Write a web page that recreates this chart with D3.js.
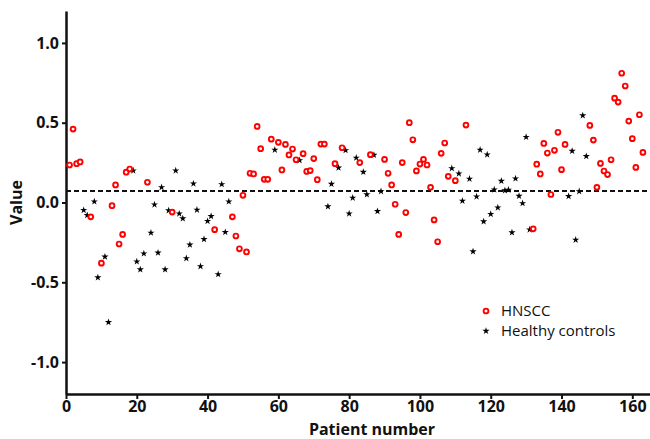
<!DOCTYPE html>
<html>
<head>
<meta charset="utf-8">
<script src="https://cdn.jsdelivr.net/npm/d3@7"></script>
<style>
  body { margin: 0; background: #fff; }
  .tick text { font-family: "Open Sans", sans-serif; font-weight: bold; font-size: 16px; fill: #111; }
  .label { font-family: "Open Sans", sans-serif; font-weight: bold; font-size: 16px; fill: #111; }
  .legend { font-family: "Open Sans", sans-serif; font-size: 15px; fill: #111; }
</style>
</head>
<body>
<div id="container"></div>
<script>

// patient number / value
const hnsccPatient = [1, 2, 3, 4, 7, 10, 13, 14, 15, 16, 17, 18, 23, 30, 42, 47, 48, 49, 50, 51,
    52, 53, 54, 55, 56, 57, 58, 60, 61, 62, 63, 64, 65, 67, 68, 69, 70, 71, 72, 73,
    76, 78, 83, 86, 90, 91, 92, 93, 94, 95, 96, 97, 98, 99, 100, 101, 102, 103, 104, 105,
    106, 107, 108, 110, 113, 132, 133, 134, 135, 136, 137, 138, 139, 140, 141, 148, 149, 150, 151, 152,
    153, 154, 155, 156, 157, 158, 159, 160, 161, 162, 163];
const hnsccValue = [0.235, 0.46, 0.243, 0.254, -0.09, -0.38, -0.02, 0.11, -0.26, -0.20, 0.19, 0.21, 0.127, -0.06, -0.17, -0.09, -0.21, -0.29, 0.045, -0.31,
    0.183, 0.179, 0.477, 0.337, 0.145, 0.145, 0.397, 0.377, 0.204, 0.364, 0.298, 0.335, 0.268, 0.306, 0.195, 0.20, 0.275, 0.143, 0.366, 0.366,
    0.243, 0.343, 0.25, 0.30, 0.27, 0.183, 0.11, -0.011, -0.20, 0.25, -0.063, 0.50, 0.393, 0.198, 0.241, 0.27, 0.235, 0.095, -0.109, -0.246,
    0.308, 0.373, 0.164, 0.137, 0.485, -0.165, 0.24, 0.179, 0.37, 0.31, 0.05, 0.327, 0.44, 0.206, 0.364, 0.483, 0.391, 0.095, 0.245, 0.1975,
    0.175, 0.268, 0.654, 0.629, 0.81, 0.73, 0.51, 0.40, 0.22, 0.55, 0.314];

const controlPatient = [5, 6, 8, 9, 11, 12, 19, 20, 21, 22, 24, 25, 26, 27, 28, 29, 31, 32, 33, 34,
    35, 36, 37, 38, 39, 40, 41, 43, 44, 45, 46, 59, 66, 74, 75, 77, 79, 80, 81, 82,
    84, 85, 87, 88, 89, 109, 111, 112, 114, 115, 116, 117, 118, 119, 120, 121, 122, 123, 124, 125,
    126, 127, 128, 129, 130, 131, 142, 143, 144, 145, 146, 147];
const controlValue = [-0.048, -0.08, 0.006, -0.47, -0.34, -0.75, 0.20, -0.37, -0.42, -0.32, -0.19, -0.013, -0.315, 0.095, -0.42, -0.05, 0.20, -0.07, -0.10, -0.35,
    -0.265, 0.118, -0.046, -0.40, -0.23, -0.117, -0.086, -0.45, 0.114, -0.186, 0.006, 0.33, 0.264, -0.025, 0.116, 0.218, 0.327, -0.07, 0.029, 0.28,
    0.191, 0.05, 0.298, -0.055, 0.07, 0.214, 0.181, 0.01, 0.148, -0.307, 0.037, 0.33, -0.119, 0.30, -0.073, 0.081, -0.032, 0.135, 0.075, 0.079,
    -0.188, 0.15, 0.041, -0.005, 0.41, -0.17, 0.039, 0.3225, -0.234, 0.07, 0.545, 0.29];

const cutoff = 0.0725;
const xTicks = [0, 20, 40, 60, 80, 100, 120, 140, 160];
const yTicks = [-1.0, -0.5, 0.0, 0.5, 1.0];
const seriesNames = ["HNSCC", "Healthy controls"];

var width = 650;
var height = 439;
var margin = {left: 66, top: 11, bottom: 45, right: 0};

const svg = d3.select("#container")
              .append("svg")
              .attr("width", width)
              .attr("height", height);

var xScale = d3.scaleLinear()
               .domain([0, 165])
               .range([margin.left, width - margin.right]);

var yScale = d3.scaleLinear()
               .domain([-1.2, 1.2])
               .range([height - margin.bottom, margin.top]);

var xAxis = d3.axisBottom(xScale)
              .tickValues(xTicks)
              .tickSize(5)
              .tickSizeOuter(0)
              .tickPadding(2)
              .tickFormat(d3.format("d"));

var yAxis = d3.axisLeft(yScale)
              .tickValues(yTicks)
              .tickSize(4)
              .tickSizeOuter(0)
              .tickPadding(3)
              .tickFormat(d => d.toFixed(1));

var gx = svg.append("g")
   .attr("transform", "translate(0," + (height - margin.bottom) + ")")
   .call(xAxis);

var gy = svg.append("g")
   .attr("transform", "translate(" + margin.left + ",0)")
   .call(yAxis);

[gx, gy].forEach(g => {
    g.select(".domain").attr("stroke", "#111").attr("stroke-width", 2.5);
    g.selectAll(".tick line").attr("stroke", "#111").attr("stroke-width", 2);
});

// cut-off line
svg.append("line")
   .attr("x1", xScale(0))
   .attr("x2", xScale(165))
   .attr("y1", yScale(cutoff))
   .attr("y2", yScale(cutoff))
   .attr("stroke", "#111")
   .attr("stroke-width", 2)
   .attr("stroke-dasharray", "5,3");

const star = d3.symbol().type(d3.symbolStar).size(16);

svg.selectAll(".ctrl")
   .data(controlPatient)
   .enter()
   .append("path")
   .attr("class", "ctrl")
   .attr("d", star)
   .attr("transform", (d, i) => "translate(" + xScale(d) + "," + yScale(controlValue[i]) + ")")
   .attr("fill", "#000");

svg.selectAll(".hnscc")
   .data(hnsccPatient)
   .enter()
   .append("circle")
   .attr("class", "hnscc")
   .attr("cx", d => xScale(d))
   .attr("cy", (d, i) => yScale(hnsccValue[i]))
   .attr("r", 2.4)
   .attr("fill", "#fff")
   .attr("stroke", "#f00")
   .attr("stroke-width", 1.9);

// axis titles
svg.append("text")
   .attr("class", "label")
   .attr("x", 372)
   .attr("y", 434.5)
   .attr("text-anchor", "middle")
   .text("Patient number");

svg.append("text")
   .attr("class", "label")
   .attr("transform", "translate(22," + yScale(0) + ") rotate(-90)")
   .attr("text-anchor", "middle")
   .text("Value");

// legend
var legend = svg.append("g").attr("transform", "translate(486,311)");

legend.append("circle")
   .attr("cx", 0).attr("cy", 0).attr("r", 2.4)
   .attr("fill", "#fff").attr("stroke", "#f00").attr("stroke-width", 1.9);

legend.append("path")
   .attr("d", star)
   .attr("transform", "translate(0,20)")
   .attr("fill", "#000");

legend.selectAll("text")
   .data(seriesNames)
   .enter()
   .append("text")
   .attr("class", "legend")
   .attr("x", 15)
   .attr("y", (d, i) => i * 20)
   .attr("dy", "0.35em")
   .text(d => d);

</script>
</body>
</html>
